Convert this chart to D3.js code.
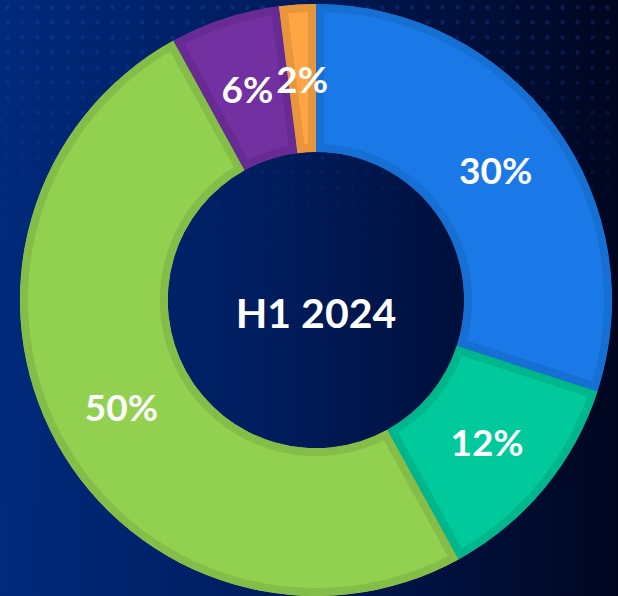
<!DOCTYPE html>
<html><head><meta charset="utf-8">
<script src="https://cdn.jsdelivr.net/npm/d3@7/dist/d3.min.js"></script>
<style>html,body{margin:0;padding:0;background:#001a55;}svg{display:block;}</style>
</head><body>
<svg id="chart" width="618" height="596"></svg>
<script>
const categories = ["A", "B", "C", "D", "E"];
const values = [30, 12, 50, 6, 2];
const labels = ["30%", "12%", "50%", "6%", "2%"];
const centerTitle = "H1 2024";
const fillColors = ["#1a79e6", "#00c99b", "#92d050", "#7230a0", "#ffa544"];
const edgeColors = ["#166fd2", "#00b68c", "#85bd49", "#672b93", "#e8963e"];

const W = 618, H = 596, cx = 316, cy = 300, rOuter = 296, rInner = 148;
const svg = d3.select("#chart");
const defs = svg.append("defs");

const bg = defs.append("linearGradient").attr("id", "bg").attr("x1", 0).attr("x2", 1).attr("y1", 0).attr("y2", 0);
bg.append("stop").attr("offset", "0%").attr("stop-color", "#002a7c");
bg.append("stop").attr("offset", "45%").attr("stop-color", "#001c5c");
bg.append("stop").attr("offset", "80%").attr("stop-color", "#000d35");
bg.append("stop").attr("offset", "100%").attr("stop-color", "#00061f");
svg.append("rect").attr("width", W).attr("height", H).attr("fill", "url(#bg)");

// subtle dot texture near top
const pat = defs.append("pattern").attr("id", "dots").attr("width", 15).attr("height", 15).attr("patternUnits", "userSpaceOnUse");
pat.append("circle").attr("cx", 7.5).attr("cy", 7.5).attr("r", 2.2).attr("fill", "#2a4fd0").attr("opacity", 0.28);
const fade = defs.append("linearGradient").attr("id", "fade").attr("x1", 0).attr("x2", 0).attr("y1", 0).attr("y2", 1);
fade.append("stop").attr("offset", "0%").attr("stop-color", "#fff").attr("stop-opacity", 1);
fade.append("stop").attr("offset", "100%").attr("stop-color", "#fff").attr("stop-opacity", 0);
defs.append("mask").attr("id", "fadeMask").append("rect").attr("width", W).attr("height", 260).attr("fill", "url(#fade)");
svg.append("rect").attr("width", W).attr("height", 260).attr("fill", "url(#dots)").attr("mask", "url(#fadeMask)");

const pie = d3.pie().value(d => d).sort(null);
const arcs = pie(values);
const arc = d3.arc().innerRadius(rInner).outerRadius(rOuter);

const g = svg.append("g").attr("transform", `translate(${cx},${cy})`);
arcs.forEach((a, i) => {
  defs.append("clipPath").attr("id", "clip" + i).append("path").attr("d", arc(a));
});
g.selectAll("g.slice").data(arcs).join("g")
  .attr("class", "slice")
  .attr("clip-path", (d, i) => `url(#clip${i})`)
  .append("path")
  .attr("d", arc)
  .attr("fill", (d, i) => fillColors[i])
  .attr("stroke", (d, i) => edgeColors[i])
  .attr("stroke-width", 16);

const font = "Lato, 'Open Sans', sans-serif";
g.selectAll("text.lbl").data(arcs).join("text")
  .attr("class", "lbl")
  .attr("transform", d => `translate(${arc.centroid(d)})`)
  .attr("text-anchor", "middle")
  .attr("dominant-baseline", "central")
  .attr("font-family", font)
  .attr("font-weight", 700)
  .attr("font-size", 37)
  .attr("fill", "#ffffff")
  .text((d, i) => labels[i]);

g.append("text")
  .attr("text-anchor", "middle")
  .attr("dominant-baseline", "central")
  .attr("y", 12)
  .attr("font-family", font)
  .attr("font-weight", 700)
  .attr("font-size", 41)
  .attr("fill", "#ffffff")
  .text(centerTitle);
</script>
</body></html>
